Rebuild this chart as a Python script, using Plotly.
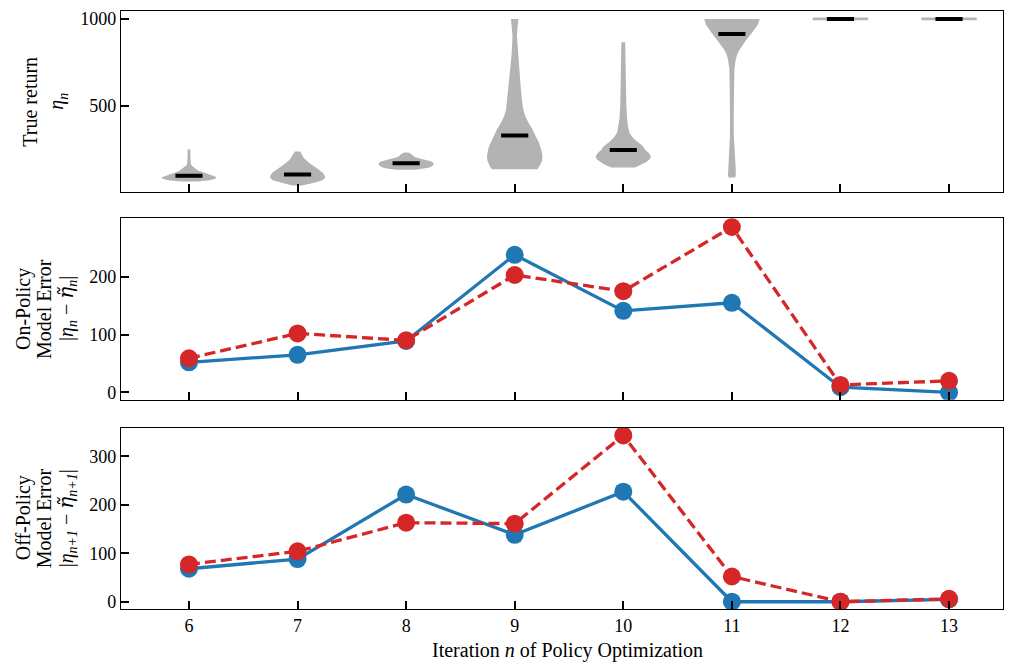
import plotly.graph_objects as go

# ---------------- data ----------------
iterations = [6, 7, 8, 9, 10, 11, 12, 13]

# On-policy model error |eta_n - eta~_n|
onpolicy_blue = [52, 65, 89, 238, 141, 155, 9, 0]
onpolicy_red = [59, 102, 90, 203, 175, 286, 13, 20]

# Off-policy model error |eta_{n+1} - eta~_{n+1}|
offpolicy_blue = [68, 88, 221, 138, 227, 0, 0, 5]
offpolicy_red = [77, 104, 163, 161, 343, 52, 0, 6]

# True return distributions: violin profile (return level, relative density width)
levels_6 = [63, 70, 78, 86, 95, 105, 115, 125, 135, 145, 155, 165, 180, 210, 240, 249]
widths_6 = [0.3, 0.75, 0.95, 1.0, 0.9, 0.7, 0.5, 0.35, 0.25, 0.17, 0.1, 0.065, 0.055, 0.05, 0.05, 0.04]
levels_7 = [40, 44, 50, 60, 70, 86, 100, 115, 135, 153, 170, 191, 200, 220, 236]
widths_7 = [0.15, 0.3, 0.45, 0.7, 0.9, 1.0, 0.97, 0.9, 0.7, 0.57, 0.42, 0.27, 0.22, 0.15, 0.1]
levels_8 = [130, 136, 144, 155, 166, 178, 188, 196, 203, 210, 218, 225, 230]
widths_8 = [0.35, 0.65, 0.85, 0.97, 1.0, 0.92, 0.72, 0.5, 0.33, 0.25, 0.2, 0.14, 0.08]
levels_9 = [134, 150, 163, 185, 211, 240, 265, 287, 310, 335, 364, 400, 442, 480, 517, 600, 709, 800, 902, 950, 1000]
widths_9 = [0.82, 0.9, 0.94, 0.99, 1.0, 0.97, 0.93, 0.875, 0.8, 0.73, 0.64, 0.5, 0.375, 0.31, 0.27, 0.22, 0.16, 0.11, 0.08, 0.1, 0.135]
levels_10 = [144, 158, 172, 190, 207, 225, 245, 268, 285, 306, 325, 345, 380, 421, 500, 615, 750, 866]
widths_10 = [0.43, 0.65, 0.8, 0.95, 1.0, 0.93, 0.8, 0.7, 0.55, 0.4, 0.3, 0.22, 0.17, 0.14, 0.11, 0.09, 0.08, 0.07]
levels_11 = [86, 100, 134, 180, 230, 328, 420, 517, 620, 709, 766, 800, 824, 855, 881, 910, 939, 965, 985, 1000]
widths_11 = [0.12, 0.14, 0.14, 0.12, 0.1, 0.07, 0.065, 0.065, 0.075, 0.09, 0.14, 0.2, 0.28, 0.4, 0.53, 0.68, 0.82, 0.93, 0.98, 1.0]
levels_12 = [992, 1008]
widths_12 = [1.0, 1.0]
levels_13 = [992, 1008]
widths_13 = [1.0, 1.0]

medians = [96, 103, 168, 328, 245, 914, 1000, 1000]

violin_levels = [levels_6, levels_7, levels_8, levels_9, levels_10, levels_11, levels_12, levels_13]
violin_widths = [widths_6, widths_7, widths_8, widths_9, widths_10, widths_11, widths_12, widths_13]

# ---------------- styles ----------------
BLUE = "#1f77b4"
RED = "#d62728"
GRAY = "#b3b3b3"
FONT = "Liberation Serif, Times New Roman, serif"
FS = 18      # tick labels
FT = 20      # y titles
FX = 20      # x title
HALF = 0.255      # max half-width of violin in x units
MED_HALF = 0.125  # half-width of median bar

fig = go.Figure()

# violins (panel 1)
for n, lv, wd in zip(iterations, violin_levels, violin_widths):
    xs = [n + HALF * w for w in wd] + [n - HALF * w for w in reversed(wd)]
    ys = list(lv) + list(reversed(lv))
    fig.add_trace(go.Scatter(x=xs, y=ys, mode="lines", fill="toself",
                             fillcolor=GRAY, line=dict(width=0, color=GRAY),
                             hoverinfo="skip", showlegend=False,
                             xaxis="x", yaxis="y"))
for n, m in zip(iterations, medians):
    fig.add_trace(go.Scatter(x=[n - MED_HALF, n + MED_HALF], y=[m, m], mode="lines",
                             line=dict(width=4, color="black"),
                             showlegend=False, xaxis="x", yaxis="y"))

def add_series(yvals, color, dash, xa, ya):
    fig.add_trace(go.Scatter(x=iterations, y=yvals, mode="lines+markers",
                             line=dict(color=color, width=3.3, dash=dash),
                             marker=dict(size=18, color=color),
                             showlegend=False, xaxis=xa, yaxis=ya))

add_series(onpolicy_blue, BLUE, "solid", "x2", "y2")
add_series(onpolicy_red, RED, "11px,5px", "x2", "y2")
add_series(offpolicy_blue, BLUE, "solid", "x3", "y3")
add_series(offpolicy_red, RED, "11px,5px", "x3", "y3")

axis_common = dict(showline=True, linecolor="black", linewidth=1.3, mirror=True,
                   ticks="inside", ticklen=8, tickwidth=2, tickcolor="black",
                   showgrid=False, zeroline=False, ticklabeloverflow="allow",
                   tickfont=dict(family=FONT, size=FS, color="black"))

xrange = [5.374, 13.497]
# page body has an 8px margin: figure is sized/margined so the plot area lands at x 121..1003, y 9..609
L, PW = 121, 882
fig.update_layout(
    width=1008, height=657,
    margin=dict(l=113, r=13, t=1, b=56),
    paper_bgcolor="white", plot_bgcolor="white",
    font=dict(family=FONT, size=FS, color="black"),
    xaxis=dict(axis_common, range=xrange, tickvals=iterations, showticklabels=False,
               anchor="y", domain=[0, 1]),
    xaxis2=dict(axis_common, range=xrange, tickvals=iterations, showticklabels=False,
                anchor="y2", domain=[0, 1]),
    xaxis3=dict(axis_common, range=xrange, tickvals=iterations, anchor="y3", domain=[0, 1]),
    yaxis=dict(axis_common, range=[0, 1046], tickvals=[500, 1000],
               domain=[0.6967, 1.0], anchor="x"),
    yaxis2=dict(axis_common, range=[-12.6, 301], tickvals=[0, 100, 200],
                domain=[0.35, 0.6533], anchor="x2"),
    yaxis3=dict(axis_common, range=[-15, 359], tickvals=[0, 100, 200, 300],
                domain=[0.0, 0.3033], anchor="x3"),
)

# x-axis title
fig.add_annotation(text="Iteration <i>n</i> of Policy Optimization",
                   xref="paper", yref="paper", x=(567 - L) / PW, y=1 - (651 - 9) / 600,
                   xanchor="center", yanchor="middle", showarrow=False,
                   font=dict(family=FONT, size=FX, color="black"))

ETA_T = "<span style=\"font-family:'DejaVu Serif'\"><i>η̃</i></span>"
# (axis, line text, page-x center of line box)
title_lines = [
    ("y", "True return", 30),
    ("y", "<i>η<sub>n</sub></i>", 58),
    ("y2", "On-Policy", 23),
    ("y2", "Model Error", 44),
    ("y2", "|<i>η<sub>n</sub></i> − " + ETA_T + "<sub><i>n</i></sub>|", 67),
    ("y3", "Off-Policy", 23),
    ("y3", "Model Error", 44),
    ("y3", "|<i>η<sub>n+1</sub></i> − " + ETA_T + "<sub><i>n+1</i></sub>|", 67),
]
for yref, txt, px in title_lines:
    fig.add_annotation(text=txt, xref="paper", yref=yref + " domain",
                       x=(px - L) / PW, y=0.5, xanchor="center", yanchor="middle",
                       textangle=-90, showarrow=False,
                       font=dict(family=FONT, size=FT, color="black"))

fig.write_html("out.html")
